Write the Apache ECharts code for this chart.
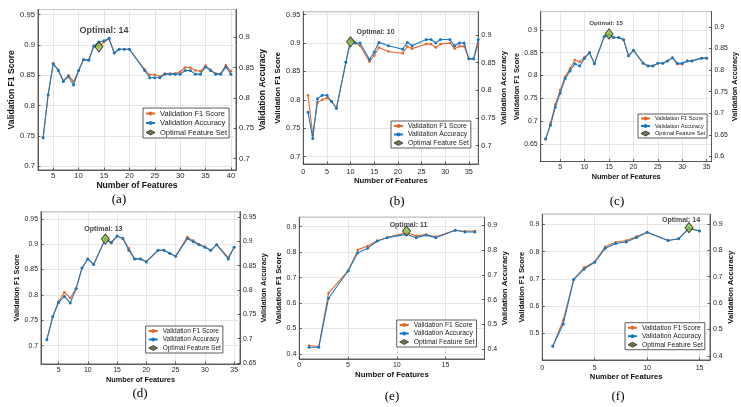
<!DOCTYPE html>
<html>
<head>
<meta charset="utf-8">
<script src="https://cdn.jsdelivr.net/npm/echarts@6/dist/echarts.min.js"></script>
<style>
  html, body { margin: 0; background: #fff; }
  #chart { width: 741px; height: 407px; }
</style>
</head>
<body>
<div id="chart"></div>
<script>
// (a)
const featA = [3, 4, 5, 6, 7, 8, 9, 10, 11, 12, 13, 14, 15, 16, 17, 18, 19, 20, 23, 24, 25, 26, 27, 28, 29, 30, 31, 32, 33, 34, 35, 36, 37, 38, 39, 40];
const f1A = [0.747, 0.818, 0.870, 0.859, 0.841, 0.850, 0.840, 0.858, 0.876, 0.876, 0.899, 0.898, 0.905, 0.910, 0.887, 0.893, 0.893, 0.893, 0.860, 0.851, 0.851, 0.848, 0.853, 0.853, 0.853, 0.856, 0.863, 0.863, 0.858, 0.857, 0.866, 0.859, 0.853, 0.853, 0.867, 0.857];
const accA = [0.747, 0.818, 0.869, 0.858, 0.840, 0.848, 0.834, 0.858, 0.876, 0.875, 0.898, 0.905, 0.907, 0.911, 0.887, 0.893, 0.893, 0.893, 0.858, 0.846, 0.846, 0.846, 0.852, 0.852, 0.852, 0.852, 0.858, 0.858, 0.852, 0.852, 0.864, 0.858, 0.852, 0.852, 0.864, 0.852];
const optA = [14, 0.897];

// (b)
const featB = [1, 2, 3, 4, 5, 6, 7, 9, 10, 11, 12, 14, 15, 16, 18, 21, 22, 23, 26, 27, 28, 29, 31, 32, 33, 34, 35, 36, 37];
const f1B = [0.808, 0.738, 0.795, 0.800, 0.803, 0.797, 0.785, 0.866, 0.902, 0.900, 0.895, 0.867, 0.878, 0.892, 0.885, 0.882, 0.894, 0.890, 0.898, 0.898, 0.892, 0.898, 0.900, 0.890, 0.894, 0.894, 0.872, 0.872, 0.898];
const accB = [0.778, 0.732, 0.802, 0.808, 0.808, 0.797, 0.785, 0.866, 0.906, 0.900, 0.900, 0.871, 0.884, 0.901, 0.895, 0.889, 0.901, 0.895, 0.906, 0.906, 0.900, 0.906, 0.906, 0.895, 0.900, 0.900, 0.872, 0.872, 0.906];
const optB = [10, 0.902];

// (c)
const featC = [2, 3, 4, 5, 6, 7, 8, 9, 10, 11, 12, 14, 15, 16, 17, 18, 19, 20, 22, 23, 24, 25, 26, 27, 28, 29, 30, 31, 32, 34, 35];
const f1C = [0.660, 0.695, 0.737, 0.768, 0.797, 0.815, 0.834, 0.830, 0.840, 0.850, 0.826, 0.885, 0.891, 0.883, 0.883, 0.878, 0.843, 0.855, 0.827, 0.821, 0.821, 0.827, 0.827, 0.832, 0.839, 0.825, 0.825, 0.832, 0.832, 0.838, 0.838];
const accC = [0.662, 0.691, 0.731, 0.762, 0.793, 0.810, 0.826, 0.821, 0.838, 0.850, 0.826, 0.885, 0.889, 0.883, 0.883, 0.878, 0.843, 0.855, 0.827, 0.821, 0.821, 0.827, 0.827, 0.832, 0.839, 0.827, 0.827, 0.832, 0.832, 0.838, 0.838];
const optC = [15, 0.891];

// (d)
const featD = [3, 4, 5, 6, 7, 8, 9, 10, 11, 13, 14, 15, 16, 17, 18, 19, 20, 22, 23, 24, 25, 27, 28, 29, 30, 31, 32, 34, 35];
const f1D = [0.712, 0.757, 0.787, 0.805, 0.794, 0.813, 0.853, 0.871, 0.860, 0.910, 0.902, 0.916, 0.911, 0.892, 0.871, 0.871, 0.866, 0.888, 0.888, 0.882, 0.876, 0.914, 0.907, 0.900, 0.895, 0.888, 0.899, 0.874, 0.894];
const accD = [0.712, 0.757, 0.785, 0.797, 0.784, 0.812, 0.853, 0.871, 0.860, 0.911, 0.904, 0.916, 0.911, 0.888, 0.871, 0.871, 0.865, 0.888, 0.888, 0.882, 0.876, 0.911, 0.905, 0.899, 0.894, 0.888, 0.899, 0.871, 0.894];
const optD = [13, 0.910];

// (e)
const featE = [1, 2, 3, 5, 6, 7, 8, 9, 11, 12, 13, 14, 16, 17, 18];
const f1E = [0.433, 0.429, 0.639, 0.726, 0.809, 0.824, 0.845, 0.857, 0.877, 0.864, 0.869, 0.860, 0.886, 0.882, 0.883];
const accE = [0.426, 0.426, 0.619, 0.726, 0.798, 0.815, 0.844, 0.857, 0.870, 0.857, 0.867, 0.857, 0.886, 0.879, 0.879];
const optE = [11, 0.883];

// (f)
const featF = [1, 2, 3, 4, 5, 6, 7, 8, 9, 10, 12, 13, 14, 15];
const f1F = [0.452, 0.549, 0.698, 0.742, 0.763, 0.818, 0.834, 0.841, 0.855, 0.871, 0.841, 0.847, 0.887, 0.876];
const accF = [0.453, 0.534, 0.698, 0.736, 0.761, 0.812, 0.830, 0.835, 0.852, 0.871, 0.841, 0.847, 0.885, 0.876];
const optF = [14, 0.888];

const FONT = '"Liberation Sans", Arial, sans-serif';
const BLUE = '#1b78bf';
const ORANGE = '#e3672b';
const GREEN = '#8cc43f';
const INK = '#3a3a3a';

const pair = (xs, ys) => xs.map((x, i) => [x, ys[i]]);

// layout of each small panel (pixels), axis ranges, fonts
const panels = [
  {feat: featA, f1: f1A, acc: accA, opt: optA, cap: '(a)', capPos: [119, 200],
   box: [38, 9.5, 236, 170], xr: [2, 41], x0: false, yl: [0.694, 0.9586], yr: [0.681, 0.946], step: 0.05,
   fs: 7.7, nfs: 8.6, gx: 9.5, gl: 20, gr: 20, mx: 2, leg: [143, 108], lfs: 7.5, ofs: 9, od: 6.7, odx: 5},
  {feat: featB, f1: f1B, acc: accB, opt: optB, cap: '(b)', capPos: [397, 202],
   box: [303.3, 11.7, 478.3, 164], xr: [0, 37], x0: true, yl: [0.687, 0.955], yr: [0.667, 0.942], step: 0.05,
   fs: 7.3, nfs: 7.8, gx: 13, gl: 17.5, gr: 21, mx: 4, leg: [391, 121], lfs: 6.8, ofs: 7, od: 0.3, odx: 25},
  {feat: featC, f1: f1C, acc: accC, opt: optC, cap: '(c)', capPos: [617, 202],
   box: [540.7, 11.5, 711.5, 161.5], xr: [1, 36], x0: false, yl: [0.612, 0.94], yr: [0.588, 0.936], step: 0.05,
   fs: 6.9, nfs: 7.3, gx: 11.5, gl: 17, gr: 16.5, mx: 2, leg: [638, 114], lfs: 5.6, ofs: 6.2, od: 1.6, odx: -3},
  {feat: featD, f1: f1D, acc: accD, opt: optD, cap: '(d)', capPos: [140, 394],
   box: [41, 211.7, 240, 364], xr: [2, 36], x0: false, yl: [0.664, 0.964], yr: [0.648, 0.961], step: 0.05,
   fs: 6.9, nfs: 7.3, gx: 12, gl: 17.5, gr: 16, mx: 3, leg: [145.7, 326], lfs: 6.5, ofs: 7, od: 1.2, odx: -2},
  {feat: featE, f1: f1E, acc: accE, opt: optE, cap: '(e)', capPos: [392, 397],
   box: [299.3, 217.3, 484.5, 359], xr: [0, 19], x0: true, yl: [0.380, 0.937], yr: [0.361, 0.932], step: 0.1,
   fs: 7, nfs: 7.8, gx: 12, gl: 12.6, gr: 16.7, mx: 3, leg: [396.7, 320], lfs: 6.8, ofs: 7, od: -2.9, odx: 2},
  {feat: featF, f1: f1F, acc: accF, opt: optF, cap: '(f)', capPos: [618, 397],
   box: [542.3, 214.3, 710, 360], xr: [0, 16], x0: true, yl: [0.402, 0.937], yr: [0.384, 0.937], step: 0.1,
   fs: 7, nfs: 7.7, gx: 12.5, gl: 13, gr: 15.5, mx: 4.5, leg: [625, 322.7], lfs: 6.8, ofs: 7, od: -1.6, odx: -8},
];

const grid = [], xAxis = [], yAxis = [], series = [], legend = [], graphic = [];

panels.forEach((p, i) => {
  const [l, t, r, b] = p.box;
  grid.push({left: l, top: t, width: r - l, height: b - t, show: true,
    borderColor: INK, borderWidth: 0.8, containLabel: false});

  const nameStyle = {fontFamily: FONT, fontWeight: 'bold', fontSize: p.nfs, color: '#111'};
  const labelStyle = {fontFamily: FONT, fontSize: p.fs, color: '#262626'};
  const tick = {show: true, inside: true, length: 2.5, lineStyle: {color: INK, width: 0.8}};
  const line = {show: true, onZero: false, lineStyle: {color: INK, width: 0.8}};
  const grey = {show: true, lineStyle: {color: '#e0e0e0', width: 0.8}};

  xAxis.push({gridIndex: i, type: 'value', min: p.xr[0], max: p.xr[1], minInterval: 5, maxInterval: 5,
    name: 'Number of Features', nameLocation: 'middle', nameGap: p.gx, nameTextStyle: nameStyle,
    axisLine: line, axisTick: tick, splitLine: grey,
    axisLabel: Object.assign({margin: p.mx, showMinLabel: p.x0, showMaxLabel: false}, labelStyle)});

  yAxis.push({gridIndex: i, type: 'value', position: 'left', min: p.yl[0], max: p.yl[1],
    minInterval: p.step, maxInterval: p.step,
    name: 'Validation F1 Score', nameLocation: 'middle', nameRotate: 90, nameGap: p.gl, nameTextStyle: nameStyle,
    axisLine: line, axisTick: tick, splitLine: grey,
    axisLabel: Object.assign({margin: 3, showMinLabel: false, showMaxLabel: false}, labelStyle)});
  yAxis.push({gridIndex: i, type: 'value', position: 'right', min: p.yr[0], max: p.yr[1],
    minInterval: p.step, maxInterval: p.step,
    name: 'Validation Accuracy', nameLocation: 'middle', nameRotate: 90, nameGap: p.gr, nameTextStyle: nameStyle,
    axisLine: line, axisTick: tick, splitLine: {show: false},
    axisLabel: Object.assign({margin: 3, showMinLabel: false, showMaxLabel: false}, labelStyle)});

  series.push({type: 'line', name: 'Validation F1 Score', xAxisIndex: i, yAxisIndex: 2 * i,
    data: pair(p.feat, p.f1), symbol: 'circle', symbolSize: 2.6, z: 3, animation: false,
    lineStyle: {color: ORANGE, width: 1.1}, itemStyle: {color: ORANGE}});
  series.push({type: 'line', name: 'Validation Accuracy', xAxisIndex: i, yAxisIndex: 2 * i,
    data: pair(p.feat, p.acc), symbol: 'circle', symbolSize: 3, z: 4, animation: false,
    lineStyle: {color: BLUE, width: 1.1}, itemStyle: {color: BLUE}});
  series.push({type: 'scatter', name: 'Optimal Feature Set', xAxisIndex: i, yAxisIndex: 2 * i,
    data: [p.opt], symbol: 'diamond', symbolSize: [8, 10], z: 6, animation: false,
    itemStyle: {color: GREEN, borderColor: '#1e1e1e', borderWidth: 1},
    label: {show: true, position: 'top', distance: p.od, offset: [p.odx, 0],
      formatter: 'Optimal: ' + p.opt[0], fontFamily: FONT, fontWeight: 'bold', fontSize: p.ofs, color: '#111'}});

  legend.push({left: p.leg[0], top: p.leg[1], orient: 'vertical', z: 10, selectedMode: false,
    data: ['Validation F1 Score', 'Validation Accuracy',
      {name: 'Optimal Feature Set', itemStyle: {color: '#3e5a22', borderColor: '#111', borderWidth: 0.8}}],
    itemWidth: 9, itemHeight: 5, itemGap: 1.5, padding: [1.5, 2],
    borderColor: '#333', borderWidth: 0.8, backgroundColor: '#fff',
    textStyle: {fontFamily: FONT, fontSize: p.lfs, color: '#222'}});

  graphic.push({type: 'text', x: p.capPos[0], y: p.capPos[1],
    style: {text: p.cap, font: '13px "Liberation Serif", "Times New Roman", serif',
      fill: '#000', align: 'center', verticalAlign: 'middle'}});
});

const chart = echarts.init(document.getElementById('chart'), null, {renderer: 'canvas'});
chart.setOption({
  animation: false,
  backgroundColor: '#fff',
  grid, xAxis, yAxis, series, legend, graphic,
});
</script>
</body>
</html>
